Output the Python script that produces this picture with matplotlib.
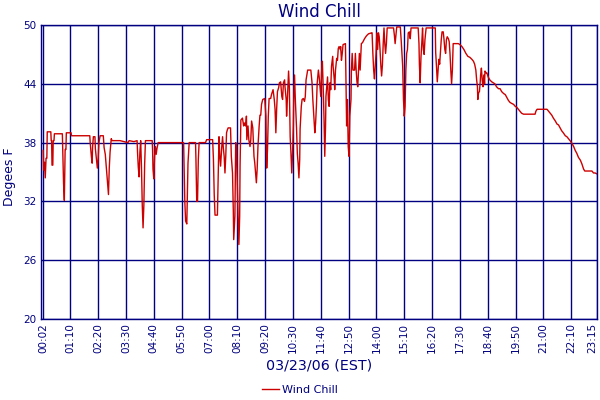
import matplotlib
matplotlib.use("Agg")
import matplotlib.pyplot as plt
from matplotlib.lines import Line2D

# time of reading (minutes after midnight) and wind chill (deg F)
minutes = [
    2, 3, 5, 7, 9, 11, 12, 21, 22, 23, 24, 26, 27, 29, 30, 50, 51, 53, 55, 57, 59, 60, 72, 73,
    119, 120, 123, 125, 126, 128, 132, 133, 135, 138, 140, 142, 145, 153, 155, 158, 160, 163, 166,
    168, 170, 173, 175, 195, 215, 218, 230, 238, 239, 241, 243, 245, 247, 249, 251, 253, 255, 257,
    259, 276, 277, 278, 280, 282, 284, 286, 288, 291, 350,
    355, 356, 358, 360, 363, 364, 366, 369, 385, 386, 388, 390, 392, 394, 410, 413, 428, 430, 432,
    434, 440, 442, 444, 446, 448, 451, 453, 455, 457, 459, 461, 463, 465, 467, 473, 475, 478, 480,
    481, 484, 486, 488, 489, 492, 494, 496, 497, 499, 503, 506, 508, 511, 513, 514, 517, 519, 522,
    524, 526, 529, 531, 532, 534, 536, 538, 540, 542, 545, 547, 549, 551, 554, 559, 562, 563, 564,
    566, 568, 570, 574, 576, 580, 583, 585, 587, 589, 591, 594, 596, 599, 602, 604, 606, 609, 610,
    613, 614, 616, 619, 621, 623, 625, 627, 629, 631, 632, 634, 636, 639, 641, 643, 645, 647, 648,
    651, 653, 656, 659, 661, 663, 667, 675, 678, 680, 682, 685, 687, 689, 691, 694, 696, 698, 700,
    702, 704, 706, 708, 710, 712, 713, 715, 717, 719, 721, 723, 725, 727, 730, 731, 734, 735, 737,
    740, 742, 744, 746, 749, 750, 752, 754, 756, 762, 763, 765, 767, 769, 771, 773, 776, 777, 779,
    781, 785, 787, 789, 791, 793, 795, 797, 799, 802,
    805, 810, 815, 820, 828, 829, 831, 833, 835, 837, 839, 841, 843, 845, 847, 849, 851, 853, 855,
    857, 859, 861, 863, 865, 867, 883, 885, 887, 889, 891, 900, 902, 904, 906, 908, 910, 912, 914,
    916, 918, 920, 923, 925, 927, 945, 947, 948, 950, 952, 954, 956, 958, 960, 962, 965, 988, 989,
    991, 993, 995, 997, 999, 1001, 1003, 1005, 1008, 1010, 1012, 1014, 1016, 1018, 1021, 1023,
    1025, 1027, 1029, 1031, 1033, 1040, 1046, 1050, 1055, 1060, 1065, 1070, 1075, 1080, 1084,
    1087, 1090, 1092, 1094, 1095, 1097, 1099, 1101, 1102, 1104, 1106, 1108, 1110, 1112, 1113,
    1116, 1118, 1121, 1125, 1130, 1134, 1138, 1142, 1147, 1151,
    1155, 1160, 1164, 1168, 1172, 1176, 1180, 1185, 1189, 1193, 1197, 1201, 1205, 1210, 1239,
    1241, 1244, 1269, 1273, 1277, 1281, 1285, 1290, 1294, 1298, 1302, 1306, 1310, 1315, 1319,
    1323, 1327, 1332, 1336, 1340, 1344, 1348, 1353, 1357, 1361, 1364, 1382, 1386, 1390, 1395,
]
wind_chill = [
    37.2, 35.2, 36.0, 34.4, 36.4, 36.4, 39.1, 39.1, 38.2, 38.2, 35.7, 35.7, 38.2, 38.2, 38.9, 38.9,
    37.3, 33.9, 32.1, 37.3, 37.3, 39.0, 39.0, 38.7,
    38.7, 38.0, 36.6, 35.9, 37.5, 38.6, 38.6, 37.4, 36.6, 35.4, 36.3, 38.0, 38.7, 38.7, 37.5, 36.8,
    35.8, 34.3, 32.7, 35.4, 37.0, 38.4, 38.2, 38.2, 38.0, 38.2, 38.1, 38.2, 37.1, 35.5, 34.5, 37.0,
    38.2, 35.5, 31.6, 29.3, 31.6, 35.8, 38.2, 38.2, 37.2, 35.3, 34.3, 36.6, 37.6, 36.8, 37.4, 38.0,
    38.0,
    38.0, 35.9, 32.0, 30.0, 29.7, 31.7, 35.9, 38.0, 38.0, 36.3, 32.0, 32.0, 36.3, 38.0, 38.0, 38.3,
    38.3, 36.3, 32.7, 30.6, 30.6, 34.9, 38.6, 36.6, 35.6, 37.6, 38.6, 37.4, 36.6, 34.9, 36.6, 39.0,
    39.3, 39.5, 39.5, 36.6, 34.9, 31.0, 28.1, 30.5, 38.0, 37.6, 35.6, 30.5, 27.6, 30.5, 35.6, 40.3,
    40.5, 39.7, 40.0, 39.7, 40.7, 38.3, 39.7, 38.3, 37.6, 38.3, 40.2, 39.5, 37.6, 36.6, 35.9, 34.9,
    33.9, 35.3, 37.6, 39.7, 40.8, 40.8, 41.9, 42.4, 42.5, 40.7, 37.3, 35.4, 37.3, 40.7, 42.5, 42.5,
    42.9, 43.4, 42.4, 41.4, 39.0, 41.4, 43.2, 43.6, 44.1, 44.2, 42.7, 42.4, 44.1, 44.4, 43.7, 42.4,
    40.7, 42.4, 45.3, 43.6, 38.6, 36.9, 34.9, 36.9, 39.7, 42.4, 44.9, 42.4, 39.5, 36.9, 35.9, 34.4,
    36.3, 39.4, 41.7, 42.4, 42.5, 42.2, 42.7, 44.4, 45.4, 45.4, 44.1, 42.4, 41.0, 39.0, 40.0, 41.7,
    44.1, 45.4, 44.7, 43.7, 42.7, 45.1, 46.3, 43.7, 40.7, 36.6, 39.7, 42.7, 43.7, 44.7, 42.4, 41.7,
    44.1, 43.4, 45.8, 46.8, 45.8, 44.4, 43.4, 45.4, 46.6, 46.4, 47.6, 47.8, 47.5, 47.8, 46.4, 47.1,
    48.0, 48.1, 45.4, 39.7, 42.4, 37.6, 36.6, 40.7, 42.4, 45.4, 47.1, 45.4, 45.4, 47.1, 45.4, 44.2,
    43.7, 45.4, 47.1, 45.4, 48.1,
    48.2, 48.6, 48.9, 49.1, 49.2, 49.2, 47.1, 45.4, 44.5, 45.8, 47.1, 49.2, 47.5, 49.2, 48.8, 47.5,
    45.9, 44.8, 45.9, 48.1, 49.7, 48.1, 47.1, 48.1, 49.7, 49.7, 49.0, 48.1, 49.0, 49.8, 49.8, 48.6,
    47.1, 45.8, 42.4, 40.7, 41.7, 45.4, 47.1, 47.5, 49.2, 49.3, 48.6, 49.7, 49.7, 48.1, 46.0, 44.1,
    46.7, 48.1, 49.7, 47.5, 47.0, 48.5, 49.7, 49.7, 47.2, 45.8, 44.2, 45.4, 46.5, 46.0, 47.2, 48.5,
    49.3, 49.3, 48.5, 47.5, 47.1, 48.5, 48.8, 48.6, 48.3, 47.1, 45.4, 44.0, 45.4, 48.1, 48.1, 48.1,
    48.0, 47.8, 47.5, 47.1, 46.8, 46.7, 46.5, 46.3, 46.0, 45.4, 44.4, 43.7, 42.4, 43.1, 43.2, 44.2,
    44.9, 45.6, 44.4, 43.7, 44.9, 44.0, 45.3, 45.1, 45.1, 44.7, 44.4, 44.2, 44.1, 44.0, 43.7, 43.5,
    43.5,
    43.2, 43.0, 42.9, 42.6, 42.3, 42.1, 42.0, 41.9, 41.7, 41.6, 41.4, 41.2, 41.0, 40.9, 40.9, 41.2,
    41.4, 41.4, 41.2, 41.0, 40.8, 40.5, 40.2, 39.9, 39.8, 39.5, 39.2, 39.0, 38.7, 38.6, 38.4, 38.2,
    37.9, 37.6, 37.2, 36.9, 36.5, 36.2, 35.8, 35.3, 35.1, 35.1, 34.9, 34.9, 34.8,
]

tick_minutes = [2, 70, 140, 210, 280, 350, 420, 490, 560, 630, 700, 770, 840, 910,
                980, 1050, 1120, 1190, 1260, 1330, 1395]
tick_labels = ["00:02", "01:10", "02:20", "03:30", "04:40", "05:50", "07:00", "08:10",
               "09:20", "10:30", "11:40", "12:50", "14:00", "15:10", "16:20", "17:30",
               "18:40", "19:50", "21:00", "22:10", "23:15"]
y_ticks = [20, 26, 32, 38, 44, 50]

NAVY = "#000080"
RED = "#cc0000"

fig = plt.figure(figsize=(6, 4), dpi=100)
ax = fig.add_axes([0.0678, 0.2025, 0.9277, 0.735])

ax.plot(minutes, wind_chill, color=RED, lw=1.0, label="Wind Chill")

ax.set_xlim(-4.5, 1395.5)
ax.set_ylim(20, 50)
ax.set_xticks(tick_minutes)
ax.set_xticklabels(tick_labels, rotation=90, fontsize=7.5, color=NAVY)
last = ax.get_xticklabels()[-1]
last.set_horizontalalignment("right")
ax.set_yticks(y_ticks)
ax.set_yticklabels([str(v) for v in y_ticks], fontsize=7.5, color=NAVY)
ax.tick_params(axis="both", length=0, pad=3)
ax.grid(True, color=NAVY, lw=1.0)
ax.set_axisbelow(True)
for s in ax.spines.values():
    s.set_color(NAVY)
    s.set_linewidth(1.0)

ax.set_title("Wind Chill", fontsize=12, color=NAVY, pad=6)
ax.set_ylabel("Degees F", fontsize=9, color=NAVY)
ax.yaxis.set_label_coords(-0.045, 0.483)
ax.set_xlabel("03/23/06 (EST)", fontsize=10.3, color=NAVY, labelpad=4)

handle = Line2D([], [], color=RED, lw=1.0)
fig.legend([handle], ["Wind Chill"], loc="center", bbox_to_anchor=(0.5, 0.025),
           frameon=False, fontsize=8, labelcolor=NAVY, handlelength=1.5,
           handletextpad=0.3, borderpad=0.1)

fig.savefig("out.png", dpi=100)
